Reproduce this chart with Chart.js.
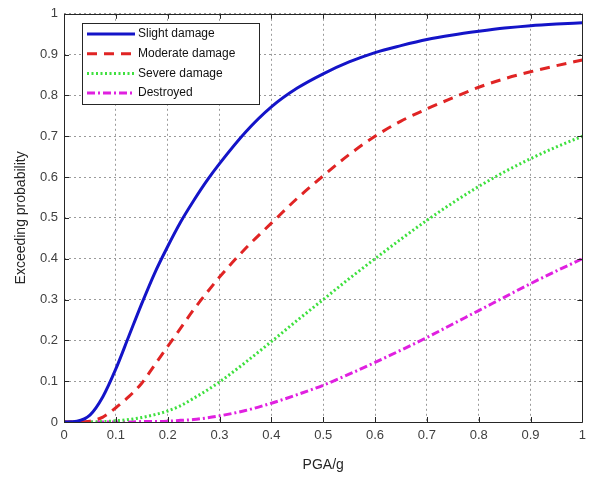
<!DOCTYPE html>
<html>
<head>
<meta charset="utf-8">
<script src="https://cdn.jsdelivr.net/npm/chart.js@4/dist/chart.umd.min.js"></script>
<style>
html,body{margin:0;padding:0;background:#fff;}
#wrap{width:592px;height:480px;position:relative;}
</style>
</head>
<body>
<div id="wrap"><canvas id="c" width="592" height="480"></canvas></div>
<script>
const pga = [0,0.025,0.05,0.075,0.1,0.125,0.15,0.175,0.2,0.225,0.25,0.275,0.3,0.35,0.4,0.45,0.5,0.55,0.6,0.65,0.7,0.75,0.8,0.85,0.9,0.95,1.0];
const slight = [0,0.002,0.017,0.062,0.13,0.21,0.29,0.365,0.43,0.49,0.542,0.59,0.633,0.71,0.772,0.818,0.853,0.882,0.905,0.922,0.937,0.948,0.957,0.965,0.971,0.975,0.978];
const moderate = [0,0,0.002,0.012,0.035,0.062,0.095,0.14,0.185,0.23,0.275,0.316,0.355,0.425,0.487,0.548,0.603,0.655,0.70,0.737,0.767,0.794,0.82,0.841,0.858,0.873,0.887];
const severe = [0,0,0,0.001,0.003,0.006,0.011,0.018,0.027,0.04,0.058,0.077,0.098,0.146,0.197,0.249,0.30,0.351,0.40,0.448,0.494,0.537,0.577,0.613,0.645,0.674,0.70];
const destroyed = [0,0,0,0,0,0,0.001,0.001,0.002,0.004,0.006,0.01,0.015,0.028,0.046,0.067,0.09,0.117,0.146,0.176,0.207,0.24,0.273,0.306,0.339,0.37,0.40];
const seriesNames = ["Slight damage","Moderate damage","Severe damage","Destroyed"];
const tickValues = [0,0.1,0.2,0.3,0.4,0.5,0.6,0.7,0.8,0.9,1];

const toPts = arr => arr.map((v,i)=>({x:pga[i], y:v}));
const styles = [
  {color:'#1414c8', dash:[], width:3},
  {color:'#e02424', dash:[10,7], width:3},
  {color:'#3ee03e', dash:[2,2.5], width:3},
  {color:'#e020e0', dash:[8,3,2,3], width:3}
];
const allData = [slight, moderate, severe, destroyed];

const frame = {
  id:'frame',
  afterDatasetsDraw(chart){
    const {ctx, chartArea:a, scales} = chart;
    ctx.save();
    ctx.strokeStyle = '#262626';
    ctx.lineWidth = 1;
    ctx.setLineDash([]);
    ctx.beginPath();
    ctx.rect(Math.round(a.left)+0.5, Math.round(a.top)+0.5, Math.round(a.right-a.left), Math.round(a.bottom-a.top));
    ctx.stroke();
    const tl = 5;
    ctx.beginPath();
    tickValues.forEach(v=>{
      const x = Math.round(scales.x.getPixelForValue(v))+0.5;
      ctx.moveTo(x, a.bottom); ctx.lineTo(x, a.bottom-tl);
      ctx.moveTo(x, a.top); ctx.lineTo(x, a.top+tl);
      const y = Math.round(scales.y.getPixelForValue(v))+0.5;
      ctx.moveTo(a.left, y); ctx.lineTo(a.left+tl, y);
      ctx.moveTo(a.right, y); ctx.lineTo(a.right-tl, y);
    });
    ctx.stroke();
    // legend
    const lx = 82, ly = 23, lw = 177, lh = 81;
    ctx.fillStyle = '#fff';
    ctx.fillRect(lx, ly, lw, lh);
    ctx.strokeStyle = '#262626';
    ctx.strokeRect(lx+0.5, ly+0.5, lw, lh);
    ctx.font = '12px "Liberation Sans", Arial, sans-serif';
    ctx.textBaseline = 'middle';
    chart.data.datasets.forEach((ds,i)=>{
      const y = 34 + i*19.7;
      ctx.strokeStyle = ds.borderColor;
      ctx.lineWidth = ds.borderWidth;
      ctx.setLineDash(ds.borderDash||[]);
      ctx.beginPath(); ctx.moveTo(87, y); ctx.lineTo(135, y); ctx.stroke();
      ctx.setLineDash([]);
      ctx.fillStyle = '#111';
      ctx.fillText(ds.label, 138, y);
    });
    ctx.restore();
  }
};

new Chart(document.getElementById('c'), {
  type:'line',
  data:{
    datasets: allData.map((d,i)=>({
      label: seriesNames[i],
      data: toPts(d),
      borderColor: styles[i].color,
      borderDash: styles[i].dash,
      borderWidth: styles[i].width,
      pointRadius:0,
      fill:false,
      cubicInterpolationMode:'monotone'
    }))
  },
  options:{
    responsive:false,
    animation:false,
    layout:{padding:{left:0, top:13, right:8, bottom:0}},
    plugins:{legend:{display:false}, tooltip:{enabled:false}},
    scales:{
      x:{
        type:'linear', min:0, max:1,
        afterBuildTicks: s => { s.ticks = tickValues.map(v=>({value:v})); },
        afterFit: s => { s.height = 58; },
        ticks:{ color:'#404040', font:{size:13, family:'"Liberation Sans", Arial, sans-serif'}, padding:6, maxRotation:0,
          callback: v => String(v) },
        grid:{ color:'#9a9a9a', lineWidth:1, drawTicks:false },
        border:{ display:false, dash:[2,3] },
        title:{ display:true, text:'PGA/g', color:'#262626', font:{size:14, family:'"Liberation Sans", Arial, sans-serif'}, padding:{top:0,bottom:6} }
      },
      y:{
        type:'linear', min:0, max:1,
        afterBuildTicks: s => { s.ticks = tickValues.map(v=>({value:v})); },
        afterFit: s => { s.width = 64; },
        ticks:{ color:'#404040', font:{size:13, family:'"Liberation Sans", Arial, sans-serif'}, padding:6,
          callback: v => String(v) },
        grid:{ color:'#9a9a9a', lineWidth:1, drawTicks:false },
        border:{ display:false, dash:[2,3] },
        title:{ display:true, text:'Exceeding probability', color:'#262626', font:{size:14, family:'"Liberation Sans", Arial, sans-serif'}, padding:{top:13,bottom:0} }
      }
    }
  },
  plugins:[frame]
});
</script>
</body>
</html>
